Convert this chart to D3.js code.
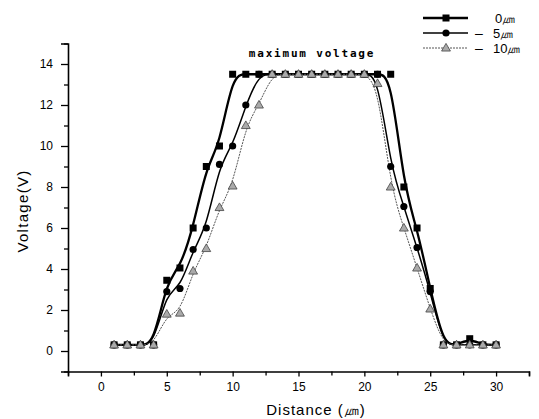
<html><head>
  <script src="https://d3js.org/d3.v7.min.js"></script>
  <style>
    body { margin: 0; background: white; }
  </style>
</head>
<body>
  <svg id="chart" width="539" height="419"></svg>
  <script>
    // distance (um) along the sample
    const distance = [1,2,3,4,5,6,7,8,9,10,11,12,13,14,15,16,17,18,19,20,21,22,23,24,25,26,27,28,29,30];

    // voltage for the three focus depths
    const v0um  = [0.3,0.3,0.3,0.3,3.45,4.05,6.0,9.0,10.0,13.5,13.5,13.5,13.5,13.5,13.5,13.5,13.5,13.5,13.5,13.5,13.5,13.5,8.0,6.0,3.05,0.3,0.3,0.6,0.3,0.3];
    const v5um  = [0.3,0.3,0.3,0.3,2.9,3.05,4.95,6.0,9.1,10.0,12.0,13.5,13.5,13.5,13.5,13.5,13.5,13.5,13.5,13.5,13.5,9.0,7.05,5.05,2.9,0.3,0.3,0.3,0.3,0.3];
    const v10um = [0.3,0.3,0.3,0.3,1.8,1.85,3.9,5.0,7.0,8.05,11.0,12.0,13.5,13.5,13.5,13.5,13.5,13.5,13.5,13.5,13.05,8.0,6.0,4.05,2.05,0.3,0.3,0.3,0.3,0.3];

    const seriesNames = ["0", "5", "10"];
    const xMajorTicks = [0,5,10,15,20,25,30];
    const xMinorTicks = [-2.5,2.5,7.5,12.5,17.5,22.5,27.5,32.5];
    const yMajorTicks = [0,2,4,6,8,10,12,14];
    const yMinorTicks = [-1,1,3,5,7,9,11,13,15];

    let svg = d3.select("svg#chart");
    const font = "'Liberation Sans', Arial, sans-serif";

    let x = d3.scaleLinear().domain([-2.5, 32.5]).range([68, 529]);
    let y = d3.scaleLinear().domain([-1, 15]).range([371.5, 43.5]);

    // axes
    let xAxis = svg.append("g").attr("transform", "translate(0," + y(-1) + ")")
      .call(d3.axisBottom(x).tickValues(xMajorTicks).tickSize(5).tickPadding(6).tickFormat(d3.format("d")));
    svg.append("g").attr("transform", "translate(0," + y(-1) + ")")
      .call(d3.axisBottom(x).tickValues(xMinorTicks).tickSize(4).tickFormat(""))
      .select(".domain").remove();

    let yAxis = svg.append("g").attr("transform", "translate(" + x(-2.5) + ",0)")
      .call(d3.axisLeft(y).tickValues(yMajorTicks).tickSize(7).tickPadding(8));
    svg.append("g").attr("transform", "translate(" + x(-2.5) + ",0)")
      .call(d3.axisLeft(y).tickValues(yMinorTicks).tickSize(4).tickFormat(""))
      .select(".domain").remove();

    svg.selectAll("g path.domain").attr("stroke", "black").attr("stroke-width", 1.6);
    svg.selectAll("g .tick line").attr("stroke", "black").attr("stroke-width", 1.3);
    svg.selectAll("g .tick text")
       .style("font-family", font)
       .style("font-size", "12px")
       .attr("fill", "black");

    // axis titles
    svg.append("text")
       .text("Distance (㎛)")
       .attr("x", 316).attr("y", 415)
       .style("text-anchor", "middle")
       .style("font-family", font)
       .style("font-size", "15px")
       .style("letter-spacing", "1px");

    svg.append("text")
       .text("Voltage(V)")
       .attr("transform", "translate(28,211) rotate(-90)")
       .style("text-anchor", "middle")
       .style("font-family", font)
       .style("font-size", "15px")
       .style("letter-spacing", "1.3px");

    // annotation
    svg.append("text")
       .text("maximum voltage")
       .attr("x", 312).attr("y", 57)
       .style("text-anchor", "middle")
       .style("font-family", "'DejaVu Sans Mono', monospace")
       .style("font-weight", "bold")
       .style("font-size", "11px")
       .style("letter-spacing", "1.8px");

    const styles = [
      {values: v0um,  width: 2.3, color: "black", dash: null,  marker: "square"},
      {values: v5um,  width: 1.5, color: "black", dash: null,  marker: "circle"},
      {values: v10um, width: 1.0, color: "#555",  dash: "2,1", marker: "triangle"}
    ];

    let line = d3.line().x(d => x(d[0])).y(d => y(d[1])).curve(d3.curveBasis);

    function drawMarker(g, type, cx, cy) {
      if (type == "square") {
        g.append("rect").attr("x", cx - 3.5).attr("y", cy - 3.5).attr("width", 7).attr("height", 7).attr("fill", "black");
      } else if (type == "circle") {
        g.append("circle").attr("cx", cx).attr("cy", cy).attr("r", 3.6).attr("fill", "black");
      } else {
        g.append("path")
         .attr("d", d3.symbol().type(d3.symbolTriangle).size(34)())
         .attr("transform", "translate(" + cx + "," + (cy + 0.5) + ")")
         .attr("fill", "#aaa").attr("stroke", "#444").attr("stroke-width", 0.8);
      }
    }

    styles.forEach((s, i) => {
      let pts = distance.map((d, j) => [d, s.values[j]]);
      svg.append("path")
         .attr("d", line(pts))
         .attr("fill", "none")
         .attr("stroke", s.color)
         .attr("stroke-width", s.width)
         .attr("stroke-dasharray", s.dash);
    });

    styles.forEach((s, i) => {
      let g = svg.append("g");
      distance.forEach((d, j) => drawMarker(g, s.marker, x(d), y(s.values[j])));
    });

    // legend
    const legendY = [18, 33, 48];
    styles.forEach((s, i) => {
      let g = svg.append("g");
      g.append("line")
       .attr("x1", 423).attr("x2", 468)
       .attr("y1", legendY[i]).attr("y2", legendY[i])
       .attr("stroke", s.color).attr("stroke-width", s.width)
       .attr("stroke-dasharray", s.dash);
      drawMarker(g, s.marker, 446, legendY[i]);
      if (i > 0) {
        g.append("text").text("–")
         .attr("x", 475).attr("y", legendY[i] + 5)
         .style("font-family", font).style("font-size", "14px");
      }
      g.append("text").text(seriesNames[i] + "㎛")
       .attr("x", i == 0 ? 495 : 493).attr("y", legendY[i] + 5)
       .style("font-family", font).style("font-size", "13px");
    });
  </script>
</body>
</html>
